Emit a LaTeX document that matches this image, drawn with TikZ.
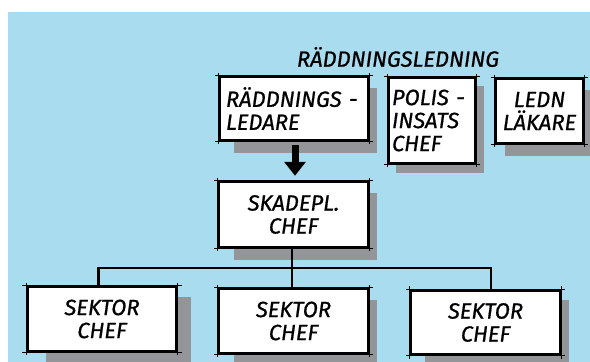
\documentclass[tikz,border=0pt]{standalone}
\usepackage{fontspec}
\setmainfont{Fira Sans}[ItalicFeatures={FakeBold=0.8}]
\usetikzlibrary{arrows.meta,backgrounds}
\definecolor{skyblue}{RGB}{168,220,238}
\definecolor{shadowgray}{RGB}{147,149,152}
\newcommand{\handfont}{\itshape\fontsize{22}{23}\selectfont}
% hand drawn look: the edges run a little past the corners
\newcommand{\sketchbox}[1]{%
  \draw[line width=0.8pt] ([xshift=-4pt]#1.north west) -- ([xshift=4pt]#1.north east);
  \draw[line width=0.8pt] ([xshift=-4pt]#1.south west) -- ([xshift=4pt]#1.south east);
  \draw[line width=0.8pt] ([yshift=3pt]#1.north west) -- ([yshift=-3pt]#1.south west);
  \draw[line width=0.8pt] ([yshift=3pt]#1.north east) -- ([yshift=-3pt]#1.south east);
}
\tikzset{
  orgbox/.style={draw, line width=2.5pt, fill=white, font=\handfont, inner sep=0pt},
  link/.style={line width=2.6pt},
}

\begin{document}
\begin{tikzpicture}[x=1pt,y=-1pt]
\useasboundingbox (0,0) rectangle (590,362);

\node[font=\handfont] (title) at (398,57) {RÄDDNINGSLEDNING};

\node[orgbox, minimum width=148pt, minimum height=63pt, text width=136pt, align=left] (rl) at (294,108.5)
  {RÄDDNINGS -\\LEDARE};
\node[orgbox, minimum width=86pt, minimum height=85pt, text width=80pt, align=left] (pic) at (432,120.5)
  {POLIS -\\INSATS\\CHEF};
\node[orgbox, minimum width=87pt, minimum height=64pt, align=center] (ll) at (539.5,111)
  {LEDN\\LÄKARE};
\node[orgbox, minimum width=149pt, minimum height=65pt, align=center] (sk) at (293.5,214.5)
  {SKADEPL.\\CHEF};
\node[orgbox, minimum width=149pt, minimum height=64pt, align=center] (s1) at (102,319)
  {SEKTOR\\CHEF};
\node[orgbox, minimum width=149pt, minimum height=64pt, align=center] (s2) at (293.5,321)
  {SEKTOR\\CHEF};
\node[orgbox, minimum width=149pt, minimum height=64pt, align=center] (s3) at (485.5,322.5)
  {SEKTOR\\CHEF};

\foreach \n in {rl,pic,ll,sk,s1,s2,s3}
  \sketchbox{\n};

\begin{scope}[on background layer]
  \fill[white] (0,0) rectangle (590,362);
  \fill[skyblue] (7.5,12) rectangle (590,362);
  \foreach \n/\a/\b/\c in {rl/15/8/12, pic/8/8/9, ll/10/7/12, sk/16/8/12, s1/20/13/11, s2/16/8/12, s3/15/8/11}
    \fill[shadowgray] ([xshift=\a pt,yshift=-\c pt]\n.north west) rectangle ([xshift=\b pt,yshift=-\c pt]\n.south east);
\end{scope}

% ledning -> skadeplats
\draw[line width=7pt, -{Triangle[width=21pt,length=14pt]}, shorten <=4pt, shorten >=5pt]
  ([xshift=1pt]rl.south) -- ([xshift=1pt]rl.south |- sk.north);

% sektorer
\coordinate (bar) at (292,268);
\draw[link] ([xshift=-1.5pt]sk.south) -- ([xshift=-1.5pt]s2.north);
\draw[link] ([xshift=-3.5pt]s1.north) |- (bar) -| ([xshift=5.5pt]s3.north);
\end{tikzpicture}
\end{document}
